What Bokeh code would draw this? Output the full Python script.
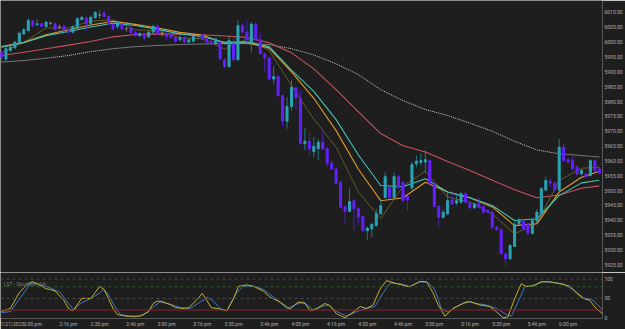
from bokeh.plotting import figure
from bokeh.layouts import column
from bokeh.models import Range1d, FixedTicker, PrintfTickFormatter, Span, Label, ColumnDataSource
from bokeh.embed import file_html
from bokeh.resources import INLINE

# ---------------- data (2-minute candles, index 0 = 1:46 pm) ----------------
opens = [5996.5, 5994.3, 5997.2, 5998.1, 6000.0, 6002.8, 6003.9, 6007.1, 6005.9, 6006.2,
         6005.3, 6006.4, 6006.2, 6005.1, 6005.3, 6004.2, 6003.4, 6004.8, 6007.6, 6008.2,
         6006.2, 6008.2, 6009.1, 6009.8, 6008.7, 6006.0, 6005.3, 6006.0, 6004.5, 6004.8,
         6003.4, 6002.2, 6002.8, 6001.8, 6003.4, 6005.3, 6002.8, 6003.0, 6002.6, 6001.5,
         6000.8, 6001.5, 6000.0, 6000.3, 6002.2, 6002.5, 6001.3, 6000.3, 5999.6, 6000.0,
         5994.1, 5991.8, 5999.4, 5994.1, 6005.6, 6003.4, 6000.0, 6006.0, 6000.8, 5996.1,
         5994.7, 5987.6, 5988.4, 5982.0, 5973.4, 5978.3, 5984.6, 5980.9, 5965.8, 5966.6,
         5963.1, 5964.1, 5966.3, 5964.1, 5959.2, 5957.3, 5952.8, 5944.6, 5943.0, 5946.6,
         5943.9, 5941.3, 5936.5, 5937.1, 5938.2, 5942.2, 5947.7, 5951.1, 5947.7, 5954.7,
         5952.8, 5948.0, 5950.9, 5959.0, 5959.5, 5959.6, 5960.1, 5952.3, 5944.6, 5941.0,
         5942.2, 5946.9, 5945.8, 5946.1, 5948.9, 5945.8, 5944.2, 5945.8, 5944.6, 5943.3,
         5942.7, 5937.7, 5936.8, 5928.7, 5927.0, 5931.2, 5938.8, 5939.7, 5938.8, 5935.6,
         5939.7, 5942.2, 5950.2, 5953.1, 5952.5, 5950.2, 5964.6, 5960.4, 5960.1, 5957.9,
         5955.6, 5955.6, 5955.1, 5960.1, 5957.3]
highs = [5997.5, 5998.3, 5998.8, 6000.4, 6003.6, 6004.8, 6008.1, 6007.6, 6007.6, 6006.6,
         6007.2, 6006.9, 6006.5, 6006.0, 6006.0, 6004.6, 6005.7, 6008.4, 6009.0, 6008.6,
         6009.0, 6010.4, 6010.7, 6010.9, 6009.2, 6006.4, 6007.0, 6006.4, 6005.3, 6005.2,
         6003.8, 6003.3, 6003.2, 6003.8, 6006.0, 6006.0, 6003.7, 6003.4, 6003.0, 6001.9,
         6002.8, 6002.0, 6001.2, 6002.3, 6002.8, 6002.9, 6001.7, 6000.8, 6001.5, 6000.4,
         5994.5, 6002.2, 6002.0, 6007.5, 6006.6, 6007.5, 6006.8, 6006.8, 6003.4, 5996.5,
         5995.1, 5991.8, 5988.8, 5982.4, 5981.5, 5987.4, 5985.0, 5983.9, 5971.1, 5969.6,
         5968.0, 5967.4, 5970.2, 5964.5, 5960.4, 5957.7, 5953.2, 5945.0, 5950.7, 5947.0,
         5944.3, 5941.7, 5937.8, 5939.0, 5943.9, 5947.2, 5956.1, 5951.5, 5956.1, 5955.5,
         5953.2, 5948.4, 5959.6, 5961.8, 5962.5, 5963.5, 5960.5, 5952.8, 5945.0, 5943.8,
         5949.5, 5950.0, 5948.9, 5949.5, 5949.5, 5946.4, 5946.0, 5947.8, 5945.1, 5943.7,
         5943.2, 5938.2, 5937.2, 5929.2, 5932.0, 5939.4, 5940.8, 5940.2, 5939.3, 5940.4,
         5943.8, 5951.2, 5954.7, 5954.0, 5953.0, 5967.4, 5966.0, 5961.0, 5961.5, 5958.4,
         5957.3, 5956.1, 5960.6, 5960.6, 5958.0]
lows = [5993.6, 5993.5, 5996.8, 5997.7, 5999.6, 6002.3, 6003.5, 6004.9, 6005.4, 6004.9,
        6005.0, 6005.7, 6003.8, 6004.2, 6003.4, 6002.5, 6003.0, 6004.5, 6007.3, 6003.9,
        6005.9, 6007.9, 6007.9, 6008.4, 6005.7, 6004.0, 6004.5, 6004.1, 6003.5, 6002.8,
        6001.8, 6001.8, 6000.6, 6001.4, 6003.0, 6002.4, 6001.9, 6000.6, 6001.1, 5999.7,
        6000.3, 5999.6, 5999.6, 5999.9, 6001.1, 6000.7, 5999.6, 5999.2, 5999.2, 5993.8,
        5991.2, 5991.3, 5993.6, 5993.7, 6003.0, 5999.7, 5996.6, 6000.3, 5995.7, 5989.9,
        5987.0, 5986.0, 5981.5, 5971.4, 5970.8, 5977.0, 5977.0, 5965.4, 5963.5, 5961.5,
        5961.2, 5960.3, 5963.7, 5957.9, 5956.9, 5952.1, 5944.0, 5938.6, 5942.6, 5936.5,
        5938.6, 5936.1, 5933.5, 5934.3, 5937.8, 5941.8, 5947.3, 5947.3, 5947.3, 5950.6,
        5946.2, 5943.3, 5950.0, 5957.9, 5958.4, 5956.0, 5951.7, 5944.4, 5937.9, 5940.5,
        5941.6, 5945.0, 5945.0, 5945.5, 5945.5, 5943.8, 5943.8, 5943.9, 5942.3, 5942.3,
        5936.8, 5936.4, 5928.3, 5924.2, 5926.5, 5931.0, 5938.3, 5936.6, 5935.0, 5935.2,
        5939.3, 5941.8, 5949.8, 5951.2, 5949.8, 5949.8, 5959.7, 5959.1, 5956.8, 5955.1,
        5955.1, 5954.3, 5954.7, 5956.3, 5955.4]
closes = [5994.8, 5997.8, 5998.3, 6000.0, 6003.0, 6004.2, 6007.3, 6005.6, 6006.2, 6005.3,
          6006.8, 6006.4, 6004.2, 6005.1, 6004.2, 6003.4, 6005.3, 6007.9, 6008.4, 6006.2,
          6008.4, 6010.1, 6009.1, 6008.7, 6006.0, 6004.5, 6006.7, 6004.5, 6004.5, 6003.2,
          6002.2, 6002.9, 6001.5, 6003.4, 6005.3, 6002.8, 6002.8, 6001.9, 6001.5, 6000.3,
          6001.5, 6000.0, 6000.8, 6001.9, 6002.2, 6001.1, 6000.0, 5999.6, 6001.1, 5994.4,
          5991.8, 6000.6, 5994.1, 6005.6, 6003.4, 6000.8, 6006.0, 6000.8, 5996.1, 5994.7,
          5987.6, 5988.4, 5982.0, 5973.4, 5978.3, 5984.8, 5981.3, 5965.8, 5966.6, 5964.1,
          5964.9, 5966.3, 5964.1, 5959.2, 5957.3, 5952.5, 5944.4, 5943.0, 5946.3, 5943.9,
          5941.1, 5936.5, 5937.4, 5938.6, 5942.2, 5944.9, 5954.7, 5947.7, 5954.7, 5951.0,
          5946.6, 5946.8, 5958.8, 5959.9, 5960.1, 5960.4, 5952.3, 5944.6, 5941.0, 5942.7,
          5946.6, 5945.5, 5946.6, 5948.9, 5946.1, 5944.2, 5945.5, 5944.4, 5942.7, 5942.7,
          5937.7, 5936.8, 5928.7, 5927.0, 5931.5, 5938.6, 5940.1, 5937.1, 5935.6, 5939.9,
          5942.7, 5950.6, 5953.4, 5952.5, 5950.2, 5964.6, 5960.1, 5959.6, 5957.3, 5955.6,
          5956.8, 5954.7, 5960.1, 5956.8, 5955.9]

# moving-average lines (candle index -> price)
ma_idx = [0, 5, 10, 15, 20, 25, 30, 35, 40, 45, 50, 55, 60, 65, 70, 75, 80, 85, 90, 95,
          100, 105, 110, 115, 120, 125, 130, 134]
ma_white = [5993.3, 5993.8, 5994.6, 5995.5, 5996.8, 5997.8, 5998.5, 5998.9, 5999.2, 5999.4,
            5999.5, 5999.5, 5999.2, 5997.8, 5995.7, 5992.7, 5989.1, 5984.0, 5980.3, 5977.3,
            5975.3, 5972.7, 5970.0, 5966.6, 5963.7, 5962.4, 5961.8, 5961.3]
ma_red = [5995.5, 5996.6, 5997.8, 5999.0, 6000.2, 6001.8, 6002.6, 6002.8, 6002.7, 6002.5,
          6002.1, 6001.6, 5999.8, 5996.4, 5991.0, 5984.0, 5976.5, 5969.2, 5965.1, 5963.0,
          5959.8, 5956.8, 5953.5, 5950.3, 5947.6, 5948.5, 5950.8, 5951.6]
ma_teal = [5998.3, 5999.8, 6002.2, 6003.6, 6005.1, 6006.4, 6005.6, 6004.3, 6002.8, 6001.9,
           6000.0, 6000.1, 5998.5, 5990.6, 5983.4, 5973.9, 5962.0, 5951.7, 5951.3, 5954.0,
           5949.5, 5947.6, 5945.0, 5939.9, 5940.5, 5948.3, 5952.6, 5953.5]
ma_orange = [5998.5, 6000.0, 6002.5, 6004.2, 6005.8, 6007.0, 6006.0, 6004.8, 6003.3, 6002.4,
             5999.6, 5999.8, 5998.0, 5990.0, 5981.1, 5970.2, 5957.2, 5946.6, 5947.6, 5952.8,
             5949.5, 5947.6, 5944.5, 5938.2, 5938.8, 5949.5, 5954.5, 5956.5]
ma_olive = [5996.5, 6000.0, 6004.8, 6004.8, 6007.1, 6007.5, 6004.2, 6003.7, 6001.5, 6001.1,
            5997.7, 6001.1, 5997.2, 5985.4, 5974.1, 5964.6, 5949.5, 5940.5, 5951.5, 5956.5,
            5947.8, 5946.1, 5942.2, 5935.4, 5939.0, 5953.4, 5957.5, 5957.9]

# Stochastic RSI panel
k_idx = [0, 2, 4, 6, 7, 8, 10, 11, 12, 14, 15, 16, 18, 20, 21, 22, 23, 25, 26, 28,
         31, 33, 34, 35, 36, 38, 39, 41, 42, 44, 45, 46, 47, 48.3, 50.5, 52, 53.1, 55, 56.5, 58.7,
         60.2, 62.4, 64.7, 66.5, 68, 69.2, 70.7, 72.5, 73.6, 75.1, 77, 78.5, 80.4, 81.8, 83.3,
         84.8, 86.3, 88.6, 91.5, 93.8, 95.3, 96.7, 97.9, 99.4, 101.2, 103.5, 105, 107.2, 109.4,
         110.9, 112.4, 113.5, 115, 116.5, 117.6, 119.1, 121, 122.9, 125.1, 127.3, 128.8, 130.3,
         131.8, 133.3, 134.8]
k_val = [16, 24, 65, 89, 93, 88, 75, 73, 69, 45, 24, 18, 50, 50, 65, 81, 73, 24, 8, 4,
         4, 16, 37, 43, 42, 33, 26, 24, 26, 49, 63, 45, 26, 24, 18, 49, 81, 85, 81, 69,
         53, 41, 22, 41, 37, 18, 24, 37, 31, 10, 0, 12, 29, 24, 33,
         73, 96, 88, 80, 94, 93, 65, 33, 4, 24, 37, 42, 33, 29,
         16, 0, 2, 49, 88, 81, 82, 93, 93, 88, 82, 65, 50,
         45, 24, 10]
d_idx = [0, 2, 4.3, 6.5, 8, 11, 13.2, 14.7, 16.2, 17.7, 19.9, 22.2, 22.9, 23.7, 25.2, 26.7,
         29.6, 31.9, 34.1, 35.6, 37.8, 40.1, 42.3, 44.6, 46.1, 47.5, 49, 50.5, 52.7, 54.2,
         56.5, 58.7, 61, 64, 66.2, 67.7, 69.9, 71.8, 73.3, 75.1, 77.4, 79.6, 81.8, 83.7, 85.6,
         87.1, 89.3, 91.5, 93.8, 95.6, 97.1, 98.6, 100.1, 102, 104.2, 106.4, 108.7, 110.9,
         113.2, 114.3, 115.8, 117.3, 119.1, 121.4, 123.6, 125.8, 128.1, 130.3, 132.6, 134.8]
d_val = [13, 16, 53, 88, 88, 77, 65, 41, 20, 37, 49, 65, 73, 65, 33, 8,
         2, 7, 29, 41, 35, 26, 24, 41, 53, 43, 24, 18, 65, 81,
         82, 73, 53, 24, 35, 41, 20, 29, 33, 16, 4, 16, 24, 29, 65,
         90, 88, 81, 93, 91, 73, 24, 14, 29, 42, 37, 33, 24,
         8, 4, 41, 80, 83, 93, 91, 88, 73, 53, 45, 20]

price_ticks = list(range(5925, 6015, 5))
time_tick_idx = [0, 7, 15, 22, 30, 37, 45, 52, 60, 67, 75, 82, 90, 97, 105, 112, 120, 127]
time_tick_labels = ["1/21/2025", "2:00 pm", "2:16 pm", "2:30 pm", "2:46 pm", "3:00 pm",
                    "3:16 pm", "3:30 pm", "3:46 pm", "4:00 pm", "4:16 pm", "4:30 pm",
                    "4:46 pm", "5:00 pm", "5:16 pm", "5:30 pm", "5:46 pm", "6:00 pm"]
stoch_ticks = [0, 50, 100]
stoch_levels = {"upper": 100, "overbought": 80, "mid": 50, "oversold": 20}
stoch_name = "LST - StochRSI (14)"

# ---------------- styling ----------------
BG = "#1e1e1e"
UP = "#2aa3b6"
DOWN = "#6420ff"
FLAT = "#8a8a8a"
TXT = "#b0b0b0"
FONT = "Roboto"
FS = "5px"


def style_axis(ax):
    ax.axis_line_color = None
    ax.major_tick_line_color = None
    ax.minor_tick_line_color = None
    ax.major_tick_out = 0
    ax.major_tick_in = 0
    ax.minor_tick_out = 0
    ax.minor_tick_in = 0
    ax.major_label_standoff = 2
    ax.major_label_text_font_size = FS
    ax.major_label_text_color = TXT
    ax.major_label_text_font = FONT


n = len(opens)
idx = list(range(n))
colors = [UP if c > o else (DOWN if c < o else FLAT) for o, c in zip(opens, closes)]
src = ColumnDataSource(dict(
    idx=idx, open=opens, high=highs, low=lows, close=closes, color=colors,
    top=[max(o, c) for o, c in zip(opens, closes)],
    bottom=[min(o, c) for o, c in zip(opens, closes)],
))

xr = Range1d(-0.224, 134.71)

p = figure(width=625, height=272, x_range=xr, y_range=Range1d(5922.4, 6014.04),
           output_backend="svg", toolbar_location=None, x_axis_location=None,
           y_axis_location="right", background_fill_color=BG, border_fill_color=BG,
           outline_line_color=None, min_border_left=0, min_border_right=22,
           min_border_top=0, min_border_bottom=0)
p.grid.visible = False
ya = p.yaxis[0]
ya.ticker = FixedTicker(ticks=price_ticks)
ya.formatter = PrintfTickFormatter(format="%.2f")
style_axis(ya)

p.line(ma_idx, ma_white, line_color="#cfcfcf", line_width=1, line_dash="1 1")
p.line(ma_idx, ma_red, line_color="#c9515f", line_width=1.1)
p.line(ma_idx, ma_olive, line_color="#66582a", line_width=1)
p.line(ma_idx, ma_orange, line_color="#df9a2e", line_width=1.1)
p.line(ma_idx, ma_teal, line_color="#43c4b0", line_width=1.1)

p.segment(x0="idx", y0="low", x1="idx", y1="high", line_color="color", line_alpha=0.65,
          line_width=1, source=src)
p.vbar(x="idx", width=0.45, top="top", bottom="bottom", fill_color="color",
       line_color="color", line_width=1, source=src)

# ---------------- stochastic panel ----------------
q = figure(width=625, height=57, x_range=xr, y_range=Range1d(-2, 117),
           output_backend="svg", toolbar_location=None, y_axis_location="right",
           background_fill_color=BG, border_fill_color=BG, outline_line_color=None,
           min_border_left=0, min_border_right=22, min_border_top=0, min_border_bottom=8)
q.grid.visible = False
xa = q.xaxis[0]
xa.ticker = FixedTicker(ticks=time_tick_idx)
xa.major_label_overrides = {t: s for t, s in zip(time_tick_idx, time_tick_labels)}
style_axis(xa)
qa = q.yaxis[0]
qa.ticker = FixedTicker(ticks=stoch_ticks)
style_axis(qa)

q.add_layout(Span(location=stoch_levels["upper"], dimension="width", line_color="#4a4a4a",
                  line_dash="3 3", line_width=1))
q.add_layout(Span(location=stoch_levels["overbought"], dimension="width", line_color="#2e532e",
                  line_dash="3 3", line_width=1))
q.add_layout(Span(location=stoch_levels["mid"], dimension="width", line_color="#4a4a4a",
                  line_dash="3 3", line_width=1))
q.add_layout(Span(location=stoch_levels["oversold"], dimension="width", line_color="#8c1f2f",
                  line_width=1))
q.line(d_idx, d_val, line_color="#3b7bc2", line_width=1)
q.line(k_idx, k_val, line_color="#c6b22a", line_width=1)
q.add_layout(Label(x=0.5, y=88, text=stoch_name, text_font_size="5px", text_color="#7a7a7a",
                   text_font=FONT, text_baseline="middle"))

layout = column(p, q, spacing=0)
open("out.html", "w").write(file_html(layout, INLINE))
